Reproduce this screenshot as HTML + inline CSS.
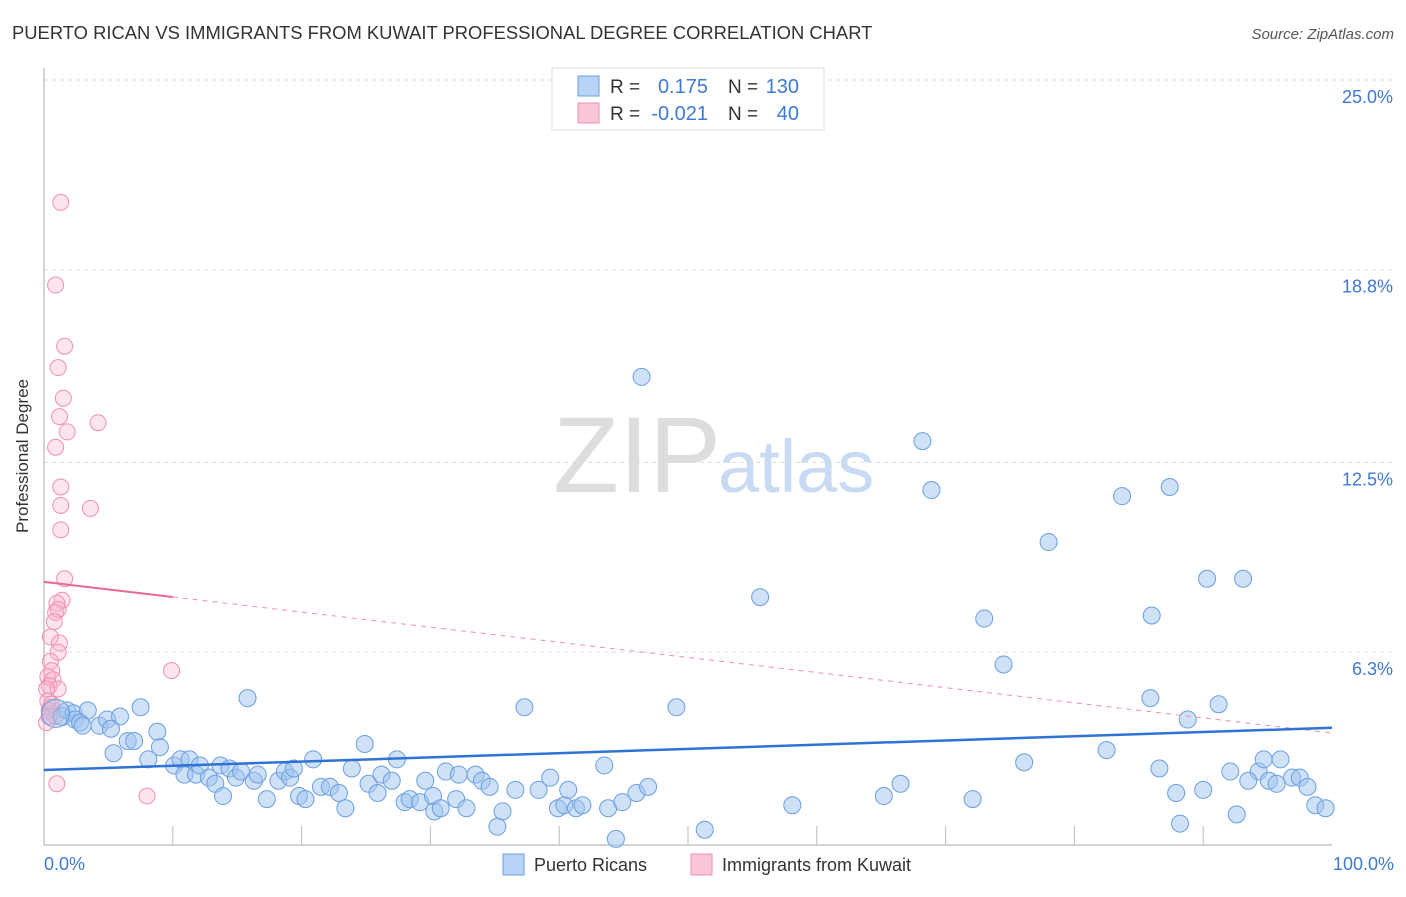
<!DOCTYPE html>
<html><head><meta charset="utf-8"><style>
body{margin:0;background:#fff;font-family:"Liberation Sans",sans-serif}
svg text{font-family:"Liberation Sans",sans-serif}
</style></head><body>
<svg width="1406" height="892">
<text x="12" y="39" font-size="18.4" fill="#333">PUERTO RICAN VS IMMIGRANTS FROM KUWAIT PROFESSIONAL DEGREE CORRELATION CHART</text>
<text x="1394" y="39" font-size="15" fill="#555" font-style="italic" text-anchor="end">Source: ZipAtlas.com</text>
<g>
<text x="553" y="492" font-size="108" fill="#ddd" font-family="Liberation Serif,serif">ZIP</text>
<text x="718" y="492" font-size="74" fill="#c8dbf3">atlas</text>
</g>
<g id="grid"></g>
<line x1="44" y1="68" x2="44" y2="845" stroke="#aaa"/>
<line x1="44" y1="845" x2="1332" y2="845" stroke="#aaa"/>
<g id="xt"></g>
<text x="28" y="456" font-size="17" fill="#333" transform="rotate(-90 28 456)" text-anchor="middle">Professional Degree</text>
<text x="44" y="870" font-size="18" fill="#3d7ad6">0.0%</text>
<text x="1394" y="870" font-size="18" fill="#3d7ad6" text-anchor="end">100.0%</text>
<g id="pts"></g>
<g id="lines"></g>
<g>
<rect x="552" y="68" width="272" height="62" fill="#fff" stroke="#ddd"/>
<rect x="578" y="76" width="21" height="20" fill="#b8d3f5" stroke="#6a9fe0"/>
<rect x="578" y="103" width="21" height="20" fill="#f9c6d6" stroke="#f08fb0"/>
<text x="610" y="93" font-size="19" fill="#333">R =</text>
<text x="708" y="93" font-size="20" fill="#3d7ad6" text-anchor="end">0.175</text>
<text x="728" y="93" font-size="19" fill="#333">N =</text>
<text x="799" y="93" font-size="20" fill="#3d7ad6" text-anchor="end">130</text>
<text x="610" y="120" font-size="19" fill="#333">R =</text>
<text x="708" y="120" font-size="20" fill="#3d7ad6" text-anchor="end">-0.021</text>
<text x="728" y="120" font-size="19" fill="#333">N =</text>
<text x="799" y="120" font-size="20" fill="#3d7ad6" text-anchor="end">40</text>
</g>
<g>
<rect x="503" y="854" width="21" height="21" fill="#b8d3f5" stroke="#6a9fe0"/>
<text x="534" y="871" font-size="18" fill="#333">Puerto Ricans</text>
<rect x="691" y="854" width="21" height="21" fill="#f9c6d6" stroke="#f08fb0"/>
<text x="722" y="871" font-size="18" fill="#333">Immigrants from Kuwait</text>
</g>
</svg>
<script>
const yTicks=[25.0,18.8,12.5,6.3];
const yTickLabels=["25.0%","18.8%","12.5%","6.3%"];
const xTicks=[10,20,30,40,50,60,70,80,90];
const blueX=[46.4,68.2,68.9,83.7,87.4,78.0,90.3,93.1,55.6,73.0,86.0,74.5,85.9,91.2,88.8,82.5,76.1,86.6,92.1,94.3,94.7,96.0,93.5,95.1,95.7,96.9,97.5,98.1,87.9,90.0,98.7,99.5,92.6,88.2,72.1,65.2,66.5,58.1,51.3,49.1,37.3,43.5,15.8,7.5,
1.4,1.8,2.3,3.4,2.4,2.8,4.3,3.0,4.9,5.9,5.2,6.5,7.0,8.8,9.0,5.4,8.1,10.1,10.6,11.3,10.9,11.8,12.1,12.8,13.3,13.7,13.9,14.4,14.9,15.3,16.3,16.6,17.3,18.2,18.7,19.1,19.4,19.8,20.3,20.9,21.5,22.2,22.9,23.4,23.9,24.9,25.2,25.9,26.2,27.0,27.4,28.0,28.4,29.2,29.6,30.2,30.3,31.2,30.8,32.0,32.2,32.8,33.5,34.0,34.6,35.6,35.2,36.6,38.4,39.3,39.9,40.4,40.7,41.3,41.8,43.8,44.9,46.0,46.9,44.4];
const blueY=[15.3,13.2,11.6,11.4,11.7,9.9,8.7,8.7,8.1,7.4,7.5,5.9,4.8,4.6,4.1,3.1,2.7,2.5,2.4,2.4,2.8,2.8,2.1,2.1,2.0,2.2,2.2,1.9,1.7,1.8,1.3,1.2,1.0,0.7,1.5,1.6,2.0,1.3,0.5,4.5,4.5,2.6,4.8,4.5,
4.2,4.4,4.3,4.4,4.1,4.0,3.9,3.9,4.1,4.2,3.8,3.4,3.4,3.7,3.2,3.0,2.8,2.6,2.8,2.8,2.3,2.3,2.6,2.2,2.0,2.6,1.6,2.5,2.2,2.4,2.1,2.3,1.5,2.1,2.4,2.2,2.5,1.6,1.5,2.8,1.9,1.9,1.7,1.2,2.5,3.3,2.0,1.7,2.3,2.1,2.8,1.4,1.5,1.4,2.1,1.6,1.1,2.4,1.2,1.5,2.3,1.2,2.3,2.1,1.9,1.1,0.6,1.8,1.8,2.2,1.2,1.3,1.8,1.2,1.3,1.2,1.4,1.7,1.9,0.2];
const pinkX=[1.3,0.9,1.6,1.1,1.5,1.2,1.8,4.2,0.9,1.3,1.3,3.6,1.3,1.6,1.4,1.0,0.9,1.1,0.8,0.5,1.2,1.1,0.5,0.6,0.3,0.7,0.4,1.1,0.2,9.9,0.5,0.6,0.9,1.0,8.0,0.3,0.4,0.2,0.6,0.4];
const pinkY=[21.0,18.3,16.3,15.6,14.6,14.0,13.5,13.8,13.0,11.7,11.1,11.0,10.3,8.7,8.0,7.9,7.6,7.7,7.3,6.8,6.6,6.3,6.0,5.7,5.5,5.4,5.2,5.1,5.1,5.7,4.5,4.3,4.2,2.0,1.6,4.7,4.4,4.0,4.6,4.2];
const blueTrend=[2.45,3.83];
const pinkTrend=[8.6,3.66];
const pinkSolidEnd=10;
const X=v=>44+v*12.88, Y=v=>845-v*30.6;
const NS="http://www.w3.org/2000/svg";
function mk(tag,attrs,parent){const e=document.createElementNS(NS,tag);for(const k in attrs)e.setAttribute(k,attrs[k]);document.getElementById(parent).appendChild(e);return e;}
yTicks.forEach((t,i)=>{
 const l=mk('line',{x1:44,x2:1394,y1:Y(t),y2:Y(t),stroke:'#ddd','stroke-dasharray':'4,4'},'grid');
 
 
 const tx=mk('text',{x:1393,y:Y(t)+23,'font-size':18,fill:'#3d7ad6','text-anchor':'end'},'grid');
 tx.textContent=yTickLabels[i];
 
 
});
xTicks.forEach(t=>{
 const l=mk('line',{x1:X(t),x2:X(t),y1:826,y2:845,stroke:'#bbb'},'xt');
 
 
});
pinkX.forEach((x,i)=>{
 const c=mk('circle',{cx:X(x),cy:Y(pinkY[i]),r:8,fill:'rgba(248,180,200,0.35)',stroke:'#f08fb0','stroke-width':1},'pts');
 
 
});
blueX.forEach((x,i)=>{
 const c=mk('circle',{cx:X(x),cy:Y(blueY[i]),r:(i===44?9:8.5),fill:'rgba(160,196,240,0.5)',stroke:'#6a9fe0','stroke-width':1},'pts');
 
 
});
const big=mk('circle',{cx:X(0.9),cy:Y(4.3),r:14,fill:'rgba(160,196,240,0.4)',stroke:'#6a9fe0'},'pts');


const pAt=x=>pinkTrend[0]+(pinkTrend[1]-pinkTrend[0])*x/100;
const pd=mk('line',{x1:X(pinkSolidEnd),y1:Y(pAt(pinkSolidEnd)),x2:X(100),y2:Y(pinkTrend[1]),stroke:'#f08fb0','stroke-dasharray':'5,5','stroke-width':1},'lines');


const ps=mk('line',{x1:X(0),y1:Y(pinkTrend[0]),x2:X(pinkSolidEnd),y2:Y(pAt(pinkSolidEnd)),stroke:'#e8679a','stroke-width':2},'lines');


const bl=mk('line',{x1:X(0),y1:Y(blueTrend[0]),x2:X(100),y2:Y(blueTrend[1]),stroke:'#2f72d6','stroke-width':2.5},'lines');


</script>
</body></html>
